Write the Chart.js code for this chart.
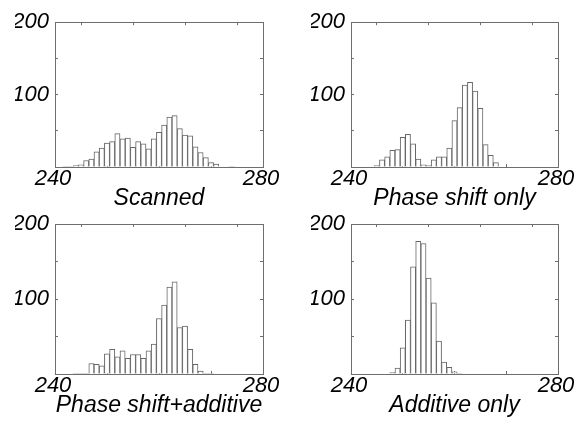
<!DOCTYPE html>
<html>
<head>
<meta charset="utf-8">
<script src="https://cdn.jsdelivr.net/npm/chart.js@4/dist/chart.umd.min.js"></script>
<style>
  html, body { margin: 0; padding: 0; background: #ffffff; }
  #wrap { position: relative; width: 586px; height: 421px; overflow: hidden; background: #fff; }
  #wrap canvas { position: absolute; left: 0; top: 0; }
</style>
</head>
<body>
<div id="wrap">
  <canvas id="c1" width="586" height="421"></canvas>
  <canvas id="c2" width="586" height="421"></canvas>
  <canvas id="c3" width="586" height="421"></canvas>
  <canvas id="c4" width="586" height="421"></canvas>
</div>
<script>
// ---- data (histogram counts, one bin per integer value) ----
const binCenters = [241,242,243,244,245,246,247,248,249,250,251,252,253,254,255,256,257,258,259,260,261,262,263,264,265,266,267,268,269,270,271,272,273,274,275];
const scanned       = [0,1,1,2,3,9,11,21,26,33,35,46,39,40,27,35,32,25,39,48,58,69,71,53,44,43,28,20,13,6,4,0,0,1,0];
const phaseOnly     = [0,0,0,0,2,10,14,23,24,41,45,32,11,3,2,10,14,14,26,64,82,113,117,105,81,31,16,6,0,0,0,0,0,0,0];
const phaseAdditive = [0,0,0,1,1,1,14,13,11,27,33,23,31,21,26,26,21,31,40,74,92,116,123,62,64,33,13,4,1,1,0,0,0,0,0];
const additiveOnly  = [0,0,0,0,0,0,0,2,8,35,72,143,177,174,128,95,44,16,9,3,1,0,0,0,0,0,0,0,0,0,0,0,0,0,0];
const panelTitles = ['Scanned', 'Phase shift only', 'Phase shift+additive', 'Additive only'];
const xRange = [240, 280];
const yRange = [0, 200];
const xLabelTicks = [240, 280];
const yLabelTicks = [100, 200];

// ---- style / layout ----
const FONT = '"Liberation Sans", Arial, Helvetica, sans-serif';
const AXIS_COLOR = '#6e6e6e';
const BAR_EDGE = '#666666';
const W = 586, H = 421;
const Y_AXIS_W = 40, X_AXIS_H = 45;
const areas = [
  {L: 55,  T: 16,  R: 263, B: 167},
  {L: 351, T: 16,  R: 558, B: 167},
  {L: 55,  T: 224, R: 263, B: 374},
  {L: 351, T: 224, R: 558, B: 374}
];
const series = [scanned, phaseOnly, phaseAdditive, additiveOnly];

function gridOpts() {
  return { drawOnChartArea: false, drawTicks: true, tickLength: -3, color: AXIS_COLOR, tickColor: AXIS_COLOR, lineWidth: 1 };
}
function borderOpts() { return { display: true, color: AXIS_COLOR, width: 1 }; }

function makeChart(id, idx) {
  const a = areas[idx];
  const data = binCenters.map((x, i) => ({ x: x, y: series[idx][i] }));
  return new Chart(document.getElementById(id), {
    type: 'bar',
    data: {
      datasets: [{
        data: data,
        backgroundColor: '#ffffff',
        borderColor: BAR_EDGE,
        borderWidth: 1,
        borderSkipped: 'start',
        barPercentage: 1.0,
        categoryPercentage: 1.0
      }]
    },
    options: {
      responsive: false,
      animation: false,
      events: [],
      layout: { padding: { left: a.L - Y_AXIS_W, top: a.T, right: W - a.R, bottom: H - a.B - X_AXIS_H } },
      plugins: { legend: { display: false }, tooltip: { enabled: false }, title: { display: false } },
      scales: {
        x: {
          type: 'linear', position: 'bottom', min: xRange[0], max: xRange[1], offset: false,
          grid: Object.assign(gridOpts(), { offset: false }),
          border: borderOpts(),
          ticks: {
            stepSize: 10, autoSkip: false, maxRotation: 0, minRotation: 0, padding: 2, labelOffset: -2,
            color: '#000', font: { family: FONT, size: 22, style: 'italic' },
            callback: (v) => xLabelTicks.includes(v) ? String(v) : ''
          },
          title: {
            display: true, text: panelTitles[idx], color: '#000',
            font: { family: FONT, size: 23, style: 'italic' }, padding: { top: 0, bottom: 0 }
          },
          afterFit: (s) => { s.height = X_AXIS_H; }
        },
        x2: {
          type: 'linear', position: 'top', min: xRange[0], max: xRange[1], offset: false,
          grid: gridOpts(), border: borderOpts(),
          ticks: { stepSize: 10, display: false },
          afterFit: (s) => { s.height = 0; }
        },
        y: {
          type: 'linear', position: 'left', min: yRange[0], max: yRange[1],
          grid: gridOpts(), border: borderOpts(),
          ticks: {
            stepSize: 50, autoSkip: false, padding: 9, color: '#000',
            font: { family: FONT, size: 22, style: 'italic' },
            callback: (v) => yLabelTicks.includes(v) ? String(v) : ''
          },
          afterFit: (s) => { s.width = Y_AXIS_W; }
        },
        y2: {
          type: 'linear', position: 'right', min: yRange[0], max: yRange[1],
          grid: gridOpts(), border: borderOpts(),
          ticks: { stepSize: 50, display: false },
          afterFit: (s) => { s.width = 0; }
        }
      }
    }
  });
}
makeChart('c1', 0);
makeChart('c2', 1);
makeChart('c3', 2);
makeChart('c4', 3);
</script>
</body>
</html>
